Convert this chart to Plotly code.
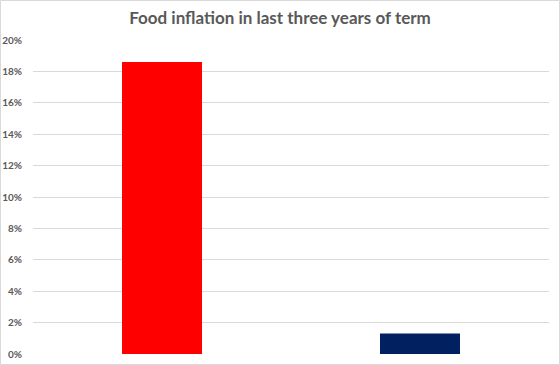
import plotly.graph_objects as go

categories = ["Term A", "Term B"]
values = [0.186, 0.013]
colors = ["#FF0000", "#002060"]
tick_vals = [i / 100 for i in range(0, 21, 2)]
tick_text = [f"{i}%" for i in range(0, 21, 2)]

W, H = 560, 365
L, R, T, B = 33, 11, 40, 11
pw, ph = W - L - R, H - T - B

fig = go.Figure(go.Bar(x=categories, y=values, marker=dict(color=colors, line=dict(width=0)), width=0.31))

fig.update_layout(
    width=W, height=H,
    margin=dict(l=L, r=R, t=T, b=B, pad=0, autoexpand=False),
    paper_bgcolor="white", plot_bgcolor="white",
    title=dict(text="<b>Food inflation in last three years of term</b>", x=0.5, xanchor="center",
               y=1 - 18 / H, yanchor="middle", automargin=False,
               font=dict(family="Lato, Open Sans, sans-serif", size=17, color="#595959")),
    showlegend=False,
)
fig.update_xaxes(showticklabels=False, showgrid=False, zeroline=False, showline=False, ticks="",
                 automargin=False)
fig.update_yaxes(range=[0, 0.2], tickvals=tick_vals, ticktext=tick_text, showgrid=True,
                 gridcolor="#D9D9D9", gridwidth=1, zeroline=False, showline=False, ticks="",
                 automargin=False,
                 tickfont=dict(family="Lato, Open Sans, sans-serif", size=10, color="#595959",
                               weight="bold"),
                 ticklabelstandoff=10)
fig.add_shape(type="rect", xref="paper", yref="paper",
              x0=(-L + 0.5) / pw, x1=1 + (R - 0.5) / pw,
              y0=(-B + 0.5) / ph, y1=1 + (T - 0.5) / ph,
              line=dict(color="#D9D9D9", width=1), fillcolor="rgba(0,0,0,0)", layer="below")

fig.write_html("out.html")
